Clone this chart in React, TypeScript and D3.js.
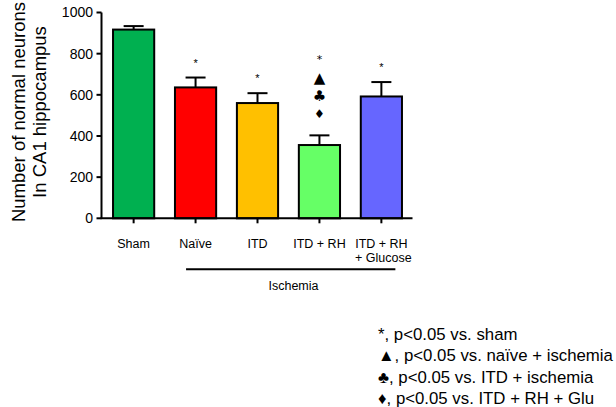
import React from "react";
import * as d3 from "d3";

const categories = ["Sham", "Naïve", "ITD", "ITD + RH", "ITD + RH|+ Glucose"];
const means = [917, 636, 560, 356, 592];
const errors = [17, 48, 48, 47, 70];
const colors = ["#00B050", "#FF0000", "#FFC000", "#66FF66", "#6666FF"];
const marks: string[][] = [[], ["*"], ["*"], ["*", "▲", "♣", "♦"], ["*"]];
const yTicks = [0, 200, 400, 600, 800, 1000];
const legendLines = [
  "*, p<0.05 vs. sham",
  "▲, p<0.05 vs. naïve + ischemia",
  "♣, p<0.05 vs. ITD + ischemia",
  "♦, p<0.05 vs. ITD + RH + Glu",
];

const FONT = "Liberation Sans, Arial, sans-serif";

export default function App() {
  const W = 616, H = 407;
  const x = d3.scaleBand<string>().domain(categories).range([102.5, 412.5]).paddingInner(0.335).paddingOuter(0.17);
  const y = d3.scaleLinear().domain([0, 1000]).range([218.3, 12.5]);
  const axisX = 101.5;
  const y0 = y(0);
  const bw = x.bandwidth();

  const symOffsets = [0, 22, 40, 58];
  const symSizes = [11, 15, 15, 12];

  return (
    <svg width={W} height={H} style={{ position: "absolute", left: 0, top: 0, background: "#fff" }} fontFamily={FONT}>
      {/* y axis title */}
      <g transform="translate(25,112) rotate(-90)">
        <text textAnchor="middle" fontSize={18.5} fill="#000">Number of normal neurons</text>
        <text textAnchor="middle" fontSize={18.5} fill="#000" y={20.5}>In CA1 hippocampus</text>
      </g>
      {/* bars */}
      {categories.map((c, i) => {
        const bx = x(c)!;
        const cx = bx + bw / 2;
        const top = y(means[i]);
        const et = y(means[i] + errors[i]);
        return (
          <g key={c}>
            <line x1={cx} x2={cx} y1={top} y2={et} stroke="#000" strokeWidth={2} />
            <line x1={cx - 10} x2={cx + 10} y1={et} y2={et} stroke="#000" strokeWidth={2} />
            <rect x={bx} y={top} width={bw} height={y0 - top} fill={colors[i]} stroke="#000" strokeWidth={2} />
          </g>
        );
      })}
      {/* significance marks */}
      {categories.map((c, i) => {
        const cx = x(c)! + bw / 2;
        if (marks[i].length === 0) return null;
        if (marks[i].length === 1) {
          return (
            <text key={"m" + i} x={cx} y={y(means[i] + errors[i]) - 11} textAnchor="middle" fontSize={11} fill="#000">*</text>
          );
        }
        const base = 56;
        return (
          <g key={"m" + i}>
            {marks[i].map((m, k) => (
              <text key={k} x={cx} y={base + symOffsets[k]} textAnchor="middle" dominantBaseline="central" fontSize={symSizes[k]} fontFamily="DejaVu Sans, sans-serif" fill="#000" dy={k === 0 ? 3 : 0}>{m}</text>
            ))}
          </g>
        );
      })}
      {/* axes */}
      <line x1={axisX} x2={axisX} y1={y(1000)} y2={y0} stroke="#000" strokeWidth={2} />
      {yTicks.map((t) => (
        <g key={t}>
          <line x1={axisX - 5} x2={axisX} y1={y(t)} y2={y(t)} stroke="#000" strokeWidth={2} />
          <text x={axisX - 8.5} y={y(t)} dy="0.35em" textAnchor="end" fontSize={14} fill="#000">{t}</text>
        </g>
      ))}
      <line x1={axisX - 1} x2={412.5} y1={y0} y2={y0} stroke="#000" strokeWidth={2} />
      {categories.map((c) => {
        const cx = x(c)! + bw / 2;
        const lines = c.split("|");
        return (
          <g key={"t" + c}>
            <line x1={cx} x2={cx} y1={y0} y2={y0 + 5} stroke="#000" strokeWidth={2} />
            {lines.map((l, k) => (
              <text key={k} x={cx + (k === 1 ? 2 : 0)} y={248 + k * 13.5} textAnchor="middle" fontSize={12.5} fill="#000">{l}</text>
            ))}
          </g>
        );
      })}
      {/* ischemia bracket */}
      <line x1={x(categories[1])! + bw / 2 - 9.5} x2={x(categories[4])! + bw / 2 + 14} y1={269.3} y2={269.3} stroke="#000" strokeWidth={2} />
      <text x={293.5} y={289.5} textAnchor="middle" fontSize={12.5} fill="#000">Ischemia</text>
      {/* legend */}
      {legendLines.map((l, k) => (
        <text key={k} x={378} y={340 + k * 21.3} fontSize={16.8} fill="#000">{l}</text>
      ))}
    </svg>
  );
}
